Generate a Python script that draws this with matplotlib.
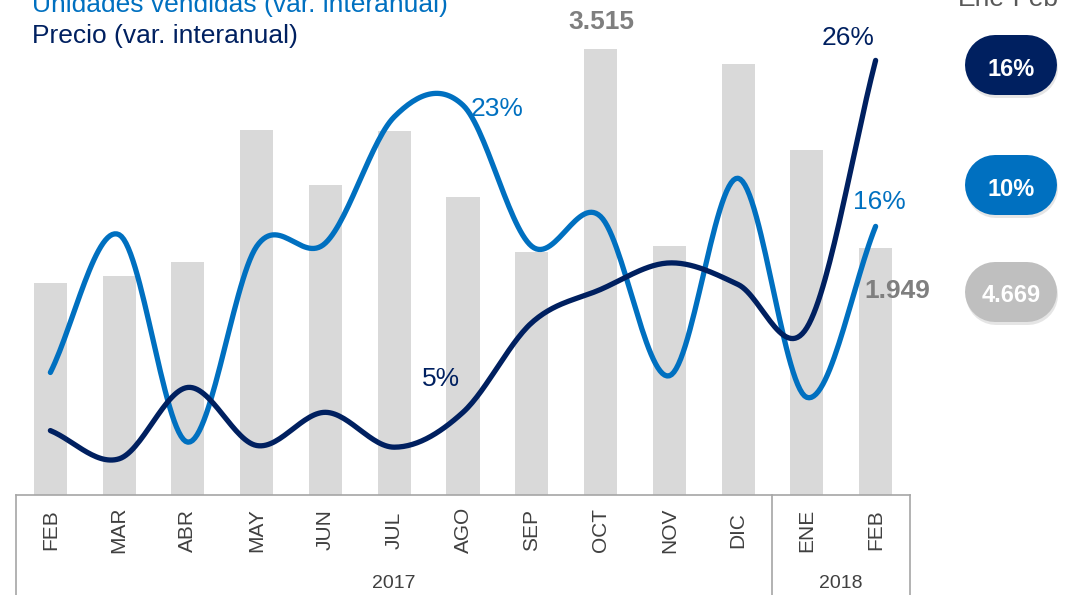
import numpy as np
import matplotlib
matplotlib.use('Agg')
import matplotlib.pyplot as plt

plt.rcParams['font.family'] = ['Liberation Sans', 'DejaVu Sans']

months = ['FEB', 'MAR', 'ABR', 'MAY', 'JUN', 'JUL', 'AGO', 'SEP', 'OCT', 'NOV', 'DIC', 'ENE', 'FEB']
years = ['2017', '2018']
year_count = [11, 2]

unidades = [1670, 1725, 1835, 2875, 2445, 2865, 2350, 1915, 3515, 1960, 3400, 2720, 1949]
var_unidades = [7.2, 15.5, 3.0, 14.8, 15.0, 22.6, 23.3, 14.8, 16.6, 7.0, 18.9, 5.7, 16.0]
var_precio = [3.7, 2.0, 6.3, 2.8, 4.8, 2.7, 4.8, 10.2, 12.2, 13.8, 12.5, 9.9, 26.0]

resumen_label = 'Ene-Feb'
resumen_valores = ['16%', '10%', '4.669']

GRIS_BARRA = '#D9D9D9'
AZUL = '#0070C0'
MARINO = '#002060'
GRIS_TXT = '#7F7F7F'


def smooth(y, n=30):
    ''' Catmull-Rom curve through the points (like Excel smoothed lines). '''
    y = np.asarray(y, dtype=float)
    p = np.concatenate([[2 * y[0] - y[1]], y, [2 * y[-1] - y[-2]]])
    xs, ys = [], []
    for i in range(len(y) - 1):
        p0, p1, p2, p3 = p[i], p[i + 1], p[i + 2], p[i + 3]
        t = np.linspace(0, 1, n, endpoint=False)
        v = 0.5 * ((2 * p1) + (-p0 + p2) * t + (2 * p0 - 5 * p1 + 4 * p2 - p3) * t ** 2
                   + (-p0 + 3 * p1 - 3 * p2 + p3) * t ** 3)
        xs.append(i + t)
        ys.append(v)
    xs.append([len(y) - 1])
    ys.append([y[-1]])
    return np.concatenate(xs), np.concatenate(ys)


W, H = 1076, 595
fig = plt.figure(figsize=(W / 100, H / 100), dpi=100)

# main axes: x from 16 to 910 px, y from 495 px (baseline) to top
ax = fig.add_axes([16 / W, 1 - 495 / H, (910 - 16) / W, 495 / H])
x = np.arange(len(months))
ax.bar(x, unidades, width=0.48, color=GRIS_BARRA, zorder=1)
ax.set_xlim(-0.5, len(months) - 0.5)
ax.set_ylim(0, 3515 * 495 / 446)
ax.set_xticks([])
ax.set_yticks([])
for s in ['top', 'right', 'left']:
    ax.spines[s].set_visible(False)
ax.spines['bottom'].set_color('#A6A6A6')
ax.spines['bottom'].set_linewidth(1.2)

ax2 = ax.twinx()
ax2.set_ylim(-3 / 16.6, 492 / 16.6)
ax2.set_yticks([])
for s in ax2.spines.values():
    s.set_visible(False)

sx, sy = smooth(var_unidades)
ax2.plot(sx, sy, color=AZUL, lw=3.8, solid_capstyle='round', zorder=3)
sx, sy = smooth(var_precio)
ax2.plot(sx, sy, color=MARINO, lw=3.8, solid_capstyle='round', zorder=4)

# value labels
fmt = lambda v: f'{v:,}'.replace(',', '.')
ax.annotate(fmt(unidades[8]), (8, unidades[8]), xytext=(1, 27), textcoords='offset pixels',
            ha='center', va='center', fontsize=19, fontweight='bold', color=GRIS_TXT)
ax.annotate(fmt(unidades[12]), (12, unidades[12]), xytext=(22, -43), textcoords='offset pixels',
            ha='center', va='center', fontsize=19, fontweight='bold', color=GRIS_TXT, zorder=5)
ax2.annotate(f'{var_precio[12]:.0f}%', (12, var_precio[12]), xytext=(-28, 22),
             textcoords='offset pixels', ha='center', va='center', fontsize=19, color=MARINO)
ax2.annotate(f'{var_unidades[12]:.0f}%', (12, var_unidades[12]), xytext=(4, 24),
             textcoords='offset pixels', ha='center', va='center', fontsize=19, color=AZUL)
ax2.annotate(f'{int(var_unidades[6])}%', (6, var_unidades[6]), xytext=(34, -4),
             textcoords='offset pixels', ha='center', va='center', fontsize=19, color=AZUL)
ax2.annotate(f'{var_precio[6]:.0f}%', (6, var_precio[6]), xytext=(-22, 33),
             textcoords='offset pixels', ha='center', va='center', fontsize=19, color=MARINO)

# category box under the axis
tr = ax.get_xaxis_transform()
box_lo = -100 / 495
for i, m in enumerate(months):
    ax.text(i, -35 / 495, m, rotation=90, ha='center', va='center', fontsize=15,
            color='#404040', transform=tr)
edges = np.concatenate([[0], np.cumsum(year_count)]) - 0.5
for e in edges:
    ax.plot([e, e], [0, box_lo], color='#A6A6A6', lw=1.2, transform=tr, clip_on=False)
for k, yr in enumerate(years):
    ax.text((edges[k] + edges[k + 1]) / 2, -89 / 495, yr, ha='center', va='center',
            fontsize=14, color='#404040', transform=tr)

# overlay in pixel coordinates for legend text and summary pills
ov = fig.add_axes([0, 0, 1, 1], zorder=10)
ov.set_xlim(0, W)
ov.set_ylim(H, 0)
ov.axis('off')
ov.text(32, 12, 'Unidades vendidas (var. interanual)', fontsize=19, color=AZUL, va='baseline')
ov.text(32, 43, 'Precio (var. interanual)', fontsize=19, color=MARINO, va='baseline')
ov.text(1008, 6, resumen_label, fontsize=19, color='#595959', ha='center', va='baseline')

# pills drawn as thick round-capped strokes (60 px tall)
pill_colors = [MARINO, AZUL, '#BFBFBF']
pill_centers = [65, 185, 292]
pill_lw = 60 * 72 / 100
for val, col, cy in zip(resumen_valores, pill_colors, pill_centers):
    ov.plot([996, 1028], [cy + 3, cy + 3], color='black', alpha=0.10, lw=pill_lw,
            solid_capstyle='round')
    ov.plot([995, 1027], [cy, cy], color=col, lw=pill_lw, solid_capstyle='round')
    ov.text(1011, cy + 4, val, ha='center', va='center', fontsize=17,
            fontweight='bold', color='white')

fig.savefig('out.png', dpi=100)
